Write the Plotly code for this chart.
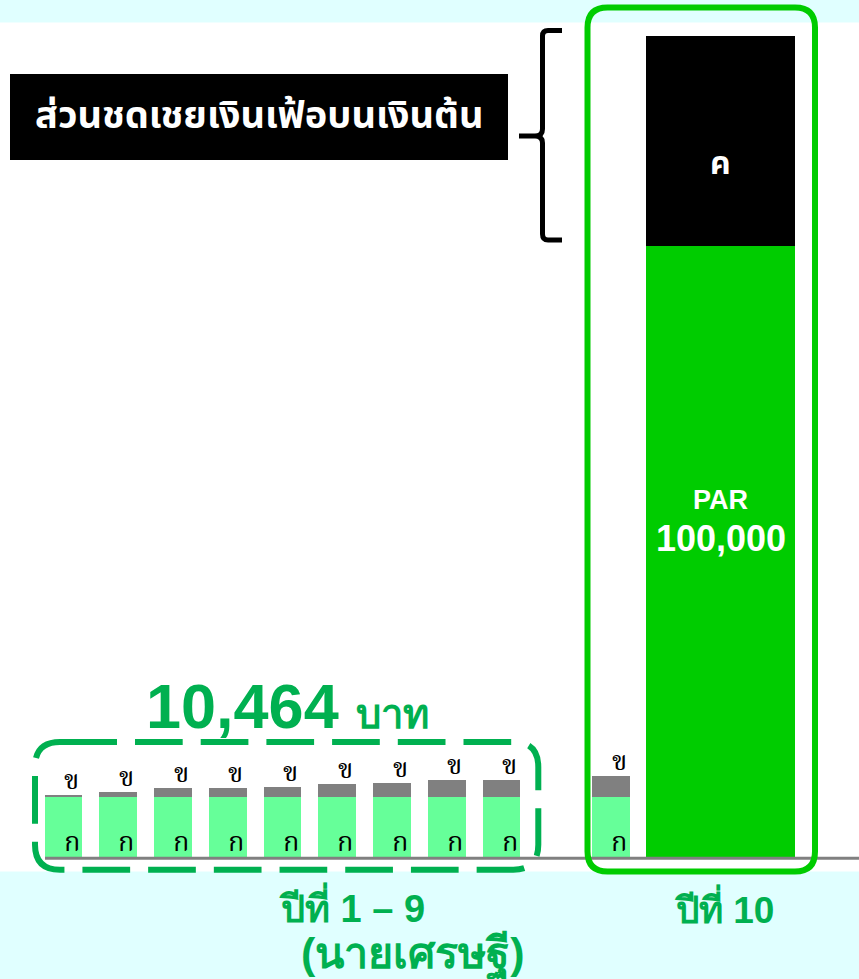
import plotly.graph_objects as go

# ---------------- data ----------------
years = ["1", "2", "3", "4", "5", "6", "7", "8", "9", "10"]
principal_part = [9820, 9820, 9820, 9820, 9820, 9820, 9820, 9820, 9820, 9820]   # ก
inflation_part = [280, 820, 1420, 1420, 1640, 2130, 2290, 2780, 2780, 3440]       # ข
par_value = [100000]                                                              # PAR
par_inflation = [34370]                                                           # ค
total_label = "10,464"
bar_label_low = "ก"
bar_label_high = "ข"
par_label = "ค"

# ---------------- layout helpers ----------------
W, H = 859, 979
GREEN_TXT = "#00B050"
BRIGHT = "#00CC00"
LIGHT = "#66FF99"
GRAY = "#808080"
CYAN = "#E0FFFF"
THAI = "Noto Sans Thai, Loma, Garuda, Liberation Sans, Arial, sans-serif"
SERIF_THAI = "Noto Serif Thai, Norasi, Liberation Serif, serif"
ARIAL = "Liberation Sans, Arial, sans-serif"


def px(x):
    return x / W


def py(y):
    return 1 - y / H


# slot positions: years 1-9 contiguous, gap, year 10, gap, par bar
small_x = [i if i < 9 else i + 1 for i in range(len(years))]
par_x = [small_x[-1] + 2]

slot0_px, slot_px = 63.5, 54.75
xr = [-slot0_px / slot_px, (W - slot0_px) / slot_px]
base_px = 857.0
units_per_px = par_value[0] / (base_px - 246.0)
yr = [-(H - base_px) * units_per_px, base_px * units_per_px]

fig = go.Figure()
fig.add_trace(go.Bar(x=small_x, y=principal_part, width=0.69,
                     marker=dict(color=LIGHT, line=dict(width=0)), name="ก"))
fig.add_trace(go.Bar(x=small_x, y=inflation_part, width=0.69,
                     marker=dict(color=GRAY, line=dict(width=0)), name="ข"))
fig.add_trace(go.Bar(x=par_x, y=par_value, width=2.72,
                     marker=dict(color=BRIGHT, line=dict(width=0)), name="PAR"))
fig.add_trace(go.Bar(x=par_x, y=par_inflation, width=2.72,
                     marker=dict(color="black", line=dict(width=0)), name="ค"))

shapes = []
# white band
shapes.append(dict(type="rect", xref="paper", yref="paper", x0=0, x1=1,
                   y0=py(871.5), y1=py(22.5), fillcolor="white", line=dict(width=0),
                   layer="below"))
# baseline
shapes.append(dict(type="line", xref="paper", yref="paper", x0=px(45), x1=1,
                   y0=py(858.3), y1=py(858.3), line=dict(color=GRAY, width=3)))


def rounded_path(x0, y0, x1, y1, r, start_x):
    # clockwise from (start_x, y0) along the top edge
    pts = [
        f"M {px(start_x)},{py(y0)}",
        f"L {px(x1 - r)},{py(y0)}",
        f"Q {px(x1)},{py(y0)} {px(x1)},{py(y0 + r)}",
        f"L {px(x1)},{py(y1 - r)}",
        f"Q {px(x1)},{py(y1)} {px(x1 - r)},{py(y1)}",
        f"L {px(x0 + r)},{py(y1)}",
        f"Q {px(x0)},{py(y1)} {px(x0)},{py(y1 - r)}",
        f"L {px(x0)},{py(y0 + r)}",
        f"Q {px(x0)},{py(y0)} {px(x0 + r)},{py(y0)}",
        f"L {px(start_x)},{py(y0)}",
    ]
    return " ".join(pts)


# green frame around year 10
shapes.append(dict(type="path", xref="paper", yref="paper",
                   path=rounded_path(587.5, 7.5, 815, 871.5, 20, 700),
                   line=dict(color=BRIGHT, width=6)))
# dashed frame around years 1-9
shapes.append(dict(type="path", xref="paper", yref="paper",
                   path=rounded_path(35, 742, 538.3, 869.7, 25, 69.3),
                   line=dict(color=GREEN_TXT, width=6, dash="47.7px,18px")))
# black label box
shapes.append(dict(type="rect", xref="paper", yref="paper", x0=px(10), x1=px(508),
                   y0=py(160), y1=py(74), fillcolor="black", line=dict(width=0)))
# curly bracket
bx = 542.5
br = [
    f"M {px(562)},{py(30.5)}", f"L {px(548)},{py(30.5)}",
    f"Q {px(bx)},{py(30.5)} {px(bx)},{py(36)}",
    f"L {px(bx)},{py(129)}",
    f"Q {px(bx)},{py(136)} {px(535)},{py(136)}",
    f"L {px(519)},{py(136)}",
    f"M {px(535)},{py(136)}",
    f"Q {px(bx)},{py(136)} {px(bx)},{py(143)}",
    f"L {px(bx)},{py(234)}",
    f"Q {px(bx)},{py(240)} {px(548)},{py(240)}",
    f"L {px(562)},{py(240)}",
]
shapes.append(dict(type="path", xref="paper", yref="paper", path=" ".join(br),
                   line=dict(color="black", width=5)))

ann = []
for i, xv in enumerate(small_x):
    ann.append(dict(x=xv, y=0, xref="x", yref="y", text=bar_label_low,
                    showarrow=False, xanchor="center", yanchor="bottom",
                    xshift=8, yshift=-10, font=dict(family=SERIF_THAI, size=27, color="black")))
    ann.append(dict(x=xv, y=principal_part[i] + inflation_part[i], xref="x", yref="y",
                    text=bar_label_high, showarrow=False, xanchor="center",
                    yanchor="bottom", xshift=8, yshift=-10,
                    font=dict(family=SERIF_THAI, size=27, color="black")))

ann.append(dict(x=par_x[0], y=par_value[0] + par_inflation[0], xref="x", yref="y",
                text=f"<b>{par_label}</b>", showarrow=False, xanchor="center",
                yanchor="middle", yshift=-(164 - 36),
                font=dict(family=THAI, size=32, color="white")))
ann.append(dict(x=par_x[0], y=par_value[0], xref="x", yref="y", text="<b>PAR</b>",
                showarrow=False, xanchor="center", yanchor="middle", yshift=-(500 - 246),
                font=dict(family=ARIAL, size=27, color="white")))
ann.append(dict(x=par_x[0], y=par_value[0], xref="x", yref="y",
                text=f"<b>{par_value[0]:,}</b>", showarrow=False, xanchor="center",
                yanchor="middle", yshift=-(538 - 246),
                font=dict(family=ARIAL, size=36, color="white")))


def paper_text(x, y, text, family, size, color, xanchor="center", align="center"):
    return dict(x=px(x), y=py(y), xref="paper", yref="paper", text=text,
                showarrow=False, xanchor=xanchor, yanchor="middle", align=align,
                font=dict(family=family, size=size, color=color))


ann.append(paper_text(259, 117, "<b>ส่วนชดเชยเงินเฟ้อบนเงินต้น</b>", THAI, 38, "white"))
ann.append(paper_text(287, 706,
                      f"<b>{total_label}</b> <span style='font-size:40px'><b>บาท</b></span>",
                      ARIAL, 63, GREEN_TXT))
ann.append(paper_text(
    277, 931,
    f"<span style='font-size:38px'><b>ปีที่ {years[0]} – {years[8]}</b></span><br>"
    "<span style='font-size:36px'>&nbsp;&nbsp;</span>"
    "<span style='font-size:43px'><b>(นายเศรษฐี)</b></span>",
    ARIAL, 35, GREEN_TXT, xanchor="left", align="left"))
ann.append(paper_text(724, 907, f"<b>ปีที่ {years[9]}</b>", ARIAL, 37, GREEN_TXT))

fig.update_layout(
    width=W, height=H, margin=dict(l=0, r=0, t=0, b=0),
    paper_bgcolor=CYAN, plot_bgcolor="rgba(0,0,0,0)",
    barmode="stack", showlegend=False, bargap=0,
    xaxis=dict(range=xr, visible=False, fixedrange=True),
    yaxis=dict(range=yr, visible=False, fixedrange=True),
    shapes=shapes, annotations=ann,
)

fig.write_html("out.html")
